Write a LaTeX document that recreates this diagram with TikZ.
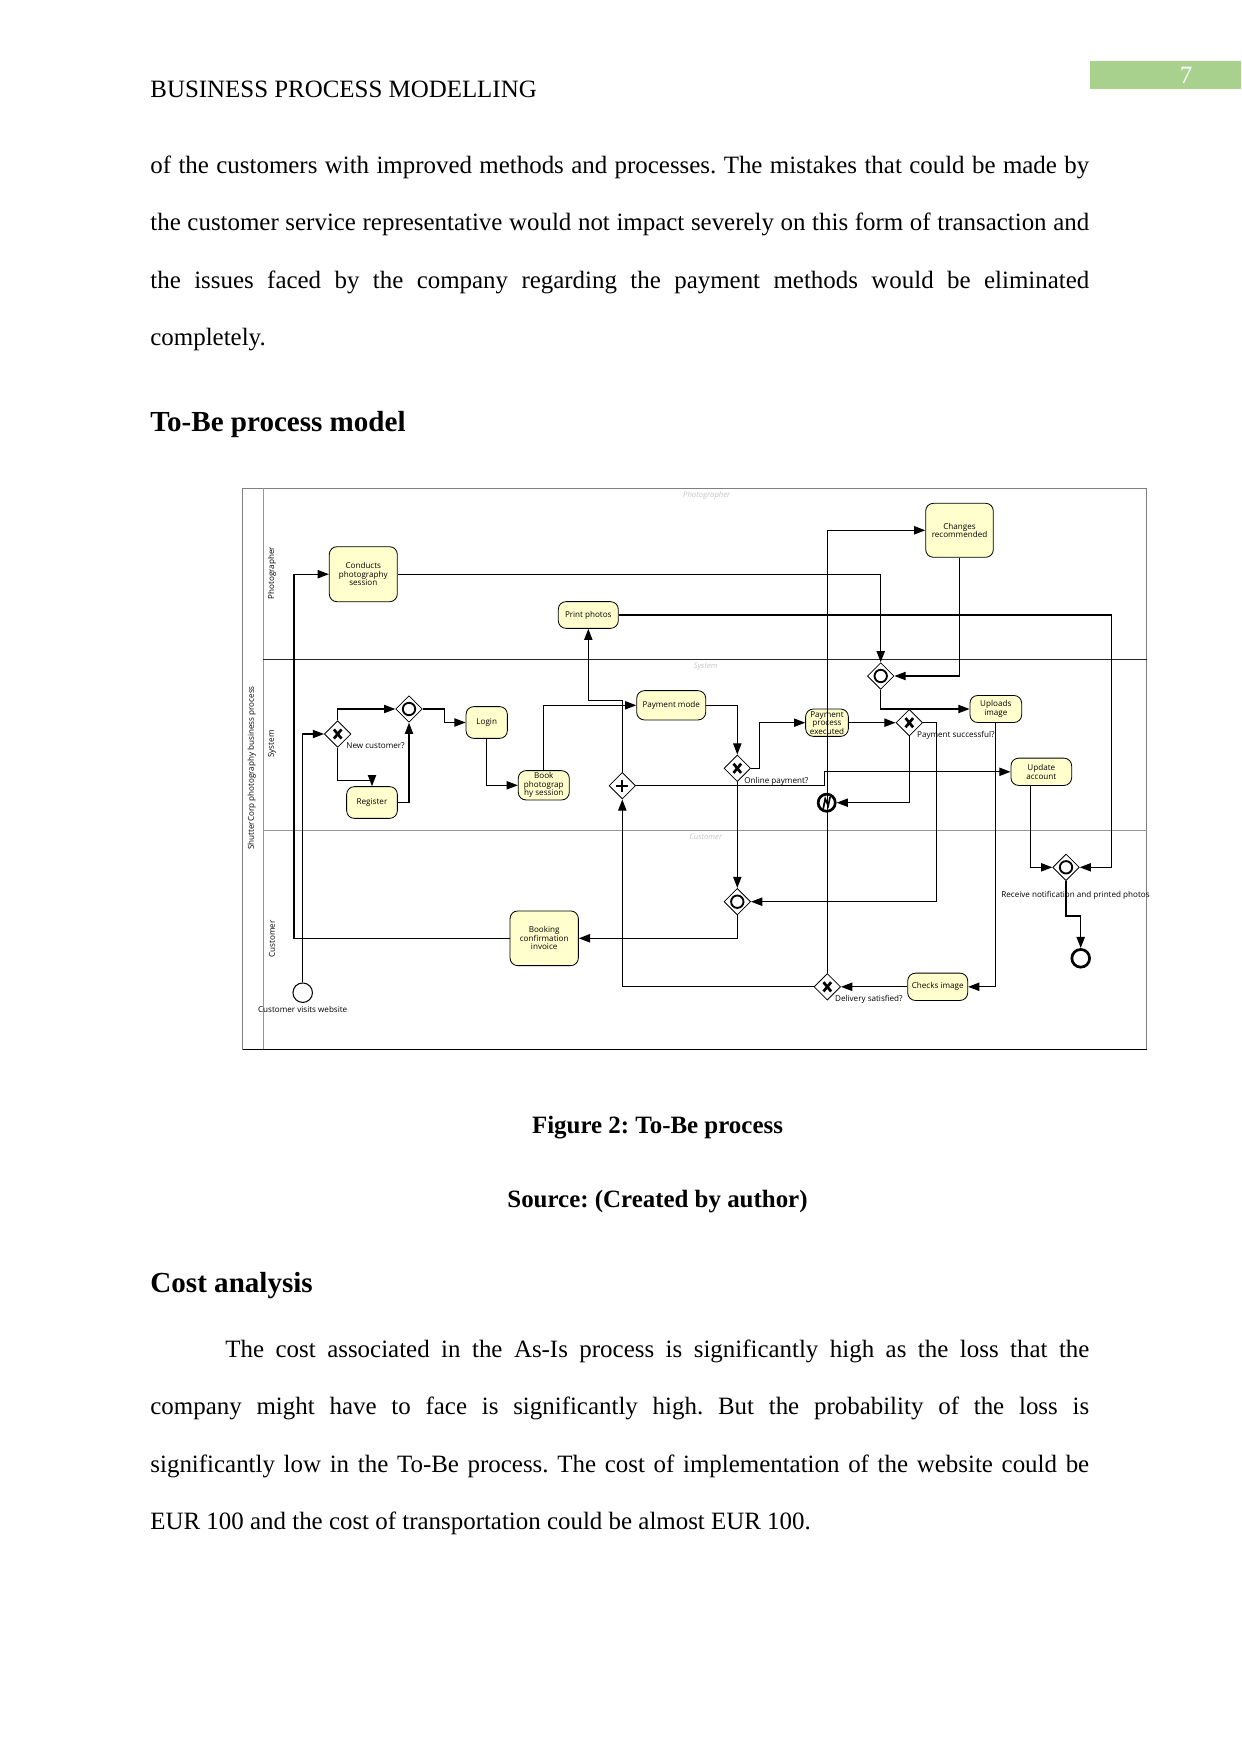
\documentclass[tikz,border=0pt]{standalone}
\usepackage{fontspec}
\setmainfont{Liberation Serif}
\newfontfamily\bpmnfont{Open Sans}
\usepackage{tikz}
\usetikzlibrary{arrows.meta, shapes.geometric, calc}
\usepackage{xcolor}
\definecolor{taskfill}{RGB}{255,255,206}
\definecolor{pagegreen}{RGB}{169,209,142}
\definecolor{lanegray}{RGB}{150,150,150}
\def\px{0.16922mm}
\newcommand{\jline}[1]{\makebox[452pt][s]{#1}}
\frenchspacing

\begin{document}
\begin{tikzpicture}[x=0.16922mm, y=-0.16922mm,
		body/.style={anchor=base west, inner sep=0pt, font=\fontsize{12}{14}\selectfont},
		headline/.style={anchor=base west, inner sep=0pt, font=\fontsize{14}{16}\selectfont\bfseries},
		capline/.style={anchor=base, inner sep=0pt, font=\fontsize{12}{14}\selectfont\bfseries},
		small/.style={inner sep=0pt, font=\bpmnfont\fontsize{3.9}{4.1}\selectfont},
		task/.style={small, draw, rounded corners=1.3mm, fill=taskfill, align=center, line width=0.4pt},
		gate/.style={diamond, draw, fill=white, minimum width=26.6*\px, minimum height=26.6*\px, inner sep=0pt, line width=0.4pt},
		gxor/.style={gate, path picture={\draw[line width=1.3pt, shift={(path picture bounding box.center)}] (-3.8,-4.6) -- (3.8,4.6) (-3.8,4.6) -- (3.8,-4.6);}},
		gor/.style={gate, path picture={\draw[line width=0.9pt] (path picture bounding box.center) circle[radius=1.05mm];}},
		gand/.style={gate, path picture={\draw[line width=0.9pt, shift={(path picture bounding box.center)}] (-6,0) -- (6,0) (0,-6) -- (0,6);}},
		flow/.style={draw, line width=0.6pt, -{Triangle[length=1.9mm, width=1.4mm]}},
		lanetitle/.style={small, text=gray!45, font=\bpmnfont\itshape\fontsize{3.7}{4}\selectfont}
	]
	\fill[white] (0,0) rectangle (1241,1754);
	\useasboundingbox (0,0) rectangle (1241,1754);
	
	\fill[pagegreen] (1090,61) rectangle (1241,89);
	\node[anchor=base, inner sep=0pt, text=white, font=\fontsize{12}{14}\selectfont] (pagenum) at (1186,83.5) {7};
	\node[body] (runhead) at (150,98) {BUSINESS PROCESS MODELLING};
	
	\node[body] (p1a) at (150,173.5) {\jline{of the customers with improved methods and processes. The mistakes that could be made by}};
	\node[body] (p1b) at (150,231) {\jline{the customer service representative would not impact severely on this form of transaction and}};
	\node[body] (p1c) at (150,288.5) {\jline{the issues faced by the company regarding the payment methods would be eliminated}};
	\node[body] (p1d) at (150,346) {completely.};
	
	\node[headline] (tobehead) at (150,432) {To-Be process model};
	
	\draw[gray, line width=0.4pt] (242.7,488.3) rectangle (1146.5,1049);
	\draw[black, line width=0.45pt] (242.7,1049) -- (1146.5,1049);
	\draw[lanegray, line width=0.3pt] (263.3,488.3) -- (263.3,1049);
	\draw[black!85, line width=0.35pt] (263.3,659) -- (1146.5,659);
	\draw[lanegray, line width=0.3pt] (263.3,830.7) -- (1146.5,830.7);
	\node[small, rotate=90] (pool) at (251.7,768) {ShutterCorp photography business process};
	\node[small, rotate=90] (lphot) at (272,573) {Photographer};
	\node[small, rotate=90] (lsys) at (272,744) {System};
	\node[small, rotate=90] (lcust) at (272,939) {Customer};
	\node[lanetitle] (tphot) at (706.7,495.7) {Photographer};
	\node[lanetitle] (tsys) at (705.7,666.7) {System};
	\node[lanetitle] (tcust) at (705.7,836.7) {Customer};
	
	\node[task, minimum width=68*\px, minimum height=55*\px] (cons) at (363.3,574.2) {Conducts\\photography\\session};
	\node[task, minimum width=60*\px, minimum height=26.7*\px] (prt) at (588.3,615) {Print photos};
	\node[task, minimum width=67.6*\px, minimum height=54*\px] (chg) at (959.5,530.3) {Changes\\recommended};
	\node[task, minimum width=41.3*\px, minimum height=31.7*\px] (login) at (486.7,722.5) {Login};
	\node[task, minimum width=50.7*\px, minimum height=31.7*\px] (reg) at (372,802.5) {Register};
	\node[task, minimum width=51*\px, minimum height=29.3*\px] (book) at (543.8,785.3) {Book\\photograp\\hy session};
	\node[task, minimum width=69*\px, minimum height=29.3*\px] (paym) at (671.2,705.3) {Payment mode};
	\node[task, minimum width=42.7*\px, minimum height=27.3*\px] (ppe) at (827,722.7) {Payment\\process\\executed};
	\node[task, minimum width=51.7*\px, minimum height=27*\px] (upl) at (995.8,709) {Uploads\\image};
	\node[task, minimum width=60.7*\px, minimum height=27.3*\px] (upd) at (1041.3,771.8) {Update\\account};
	\node[task, minimum width=68.3*\px, minimum height=54.7*\px] (bci) at (544.2,938.3) {Booking\\confirmation\\invoice};
	\node[task, minimum width=60*\px, minimum height=27.3*\px] (chk) at (937.7,986.8) {Checks image};
	
	\node[gxor] (g1) at (337.7,734) {};
	\node[gor] (g2) at (409,709) {};
	\node[gor] (g3) at (880.7,676) {};
	\node[gand] (g4) at (622.3,785.7) {};
	\node[gxor] (g5) at (737.3,768.3) {};
	\node[gxor] (g6) at (909.3,722.7) {};
	\node[gor] (g7) at (737.3,901.7) {};
	\node[gor] (g8) at (1066,867.3) {};
	\node[gxor] (g9) at (827.3,986.8) {};
	\node[circle, draw, line width=0.5pt, minimum size=3.3mm, inner sep=0pt] (start) at (302.7,992.7) {};
	\node[circle, draw, line width=1.3pt, minimum size=3.0mm, inner sep=0pt] (end) at (1080.7,958.3) {};
	\node[circle, draw, line width=1.3pt, minimum size=2.9mm, inner sep=0pt,
		path picture={\draw[line width=0.8pt, shift={(path picture bounding box.center)}] (-3.5,6) -- (-1.5,-4) -- (1.5,3) -- (3.5,-6);}] (err) at (826.7,802.7) {};
	
	\node[small, anchor=west] (q1) at (346,746) {New customer?};
	\node[small, anchor=west] (q2) at (744,781) {Online payment?};
	\node[small, anchor=west] (q3) at (916.7,735) {Payment successful?};
	\node[small, anchor=west] (q4) at (834.7,999) {Delivery satisfied?};
	\node[small] (q5) at (1075.5,895) {Receive notification and printed photos};
	\node[small] (q6) at (302.7,1009) {Customer visits website};
	
	\draw[flow] (start) |- (g1);
	\draw[flow] (g1) |- (g2);
	\draw[flow] (g1.south) -- ++(0,32.7) -| (reg.north);
	\draw[flow] (reg) -| (g2);
	\draw[flow] (g2.east) -- ++(21.7,0) |- (login.west);
	\draw[flow] (login) |- (book);
	\draw[flow] (book) |- (paym);
	\draw[flow] (paym) -| (g5);
	\draw[flow] (g5.east) -- ++(8.7,0) |- (ppe.west);
	\draw[flow] (g5) -- (g7);
	\draw[flow] (ppe) -- (g6);
	\draw[flow] (g6) |- (err);
	\draw[flow] (g6.east) -- ++(13.4,0) |- (g7.east);
	\draw[flow] (g4.east) -- ++(188.4,0) |- (upd.west);
	\draw[flow] (g4.north) -- ++(0,-71.7) -| (prt.south);
	\draw[flow] (cons) -| (g3);
	\draw[flow] (chg) |- (g3);
	\draw[flow] (g3) |- (upl);
	\draw[flow] (prt.east) -- ++(492.4,0) |- (g8.east);
	\draw[flow] ($(upd.south)+(-10.6,0)$) |- (g8.west);
	\draw[flow] (g8.south) -- ++(0,35) -| (end.north);
	\draw[flow] (upl) |- (chk);
	\draw[flow] (chk) -- (g9);
	\draw[flow] (g9) -| (g4);
	\draw[flow] (g9) |- (chg);
	\draw[flow] (g7) |- (bci);
	\draw[flow] (bci.west) -- ++(-215.7,0) |- (cons.west);
	
	\node[capline] (figcap) at (657.5,1133.5) {Figure 2: To-Be process};
	\node[capline] (figsrc) at (657.5,1207) {Source: (Created by author)};
	
	\node[headline] (costhead) at (150,1292.5) {Cost analysis};
	\node[body] (p2a) at (225,1357) {\makebox[416pt][s]{The cost associated in the As-Is process is significantly high as the loss that the}};
	\node[body] (p2b) at (150,1414.5) {\jline{company might have to face is significantly high. But the probability of the loss is}};
	\node[body] (p2c) at (150,1472) {\jline{significantly low in the To-Be process. The cost of implementation of the website could be}};
	\node[body] (p2d) at (150,1529.5) {EUR 100 and the cost of transportation could be almost EUR 100.};
\end{tikzpicture}
\end{document}
